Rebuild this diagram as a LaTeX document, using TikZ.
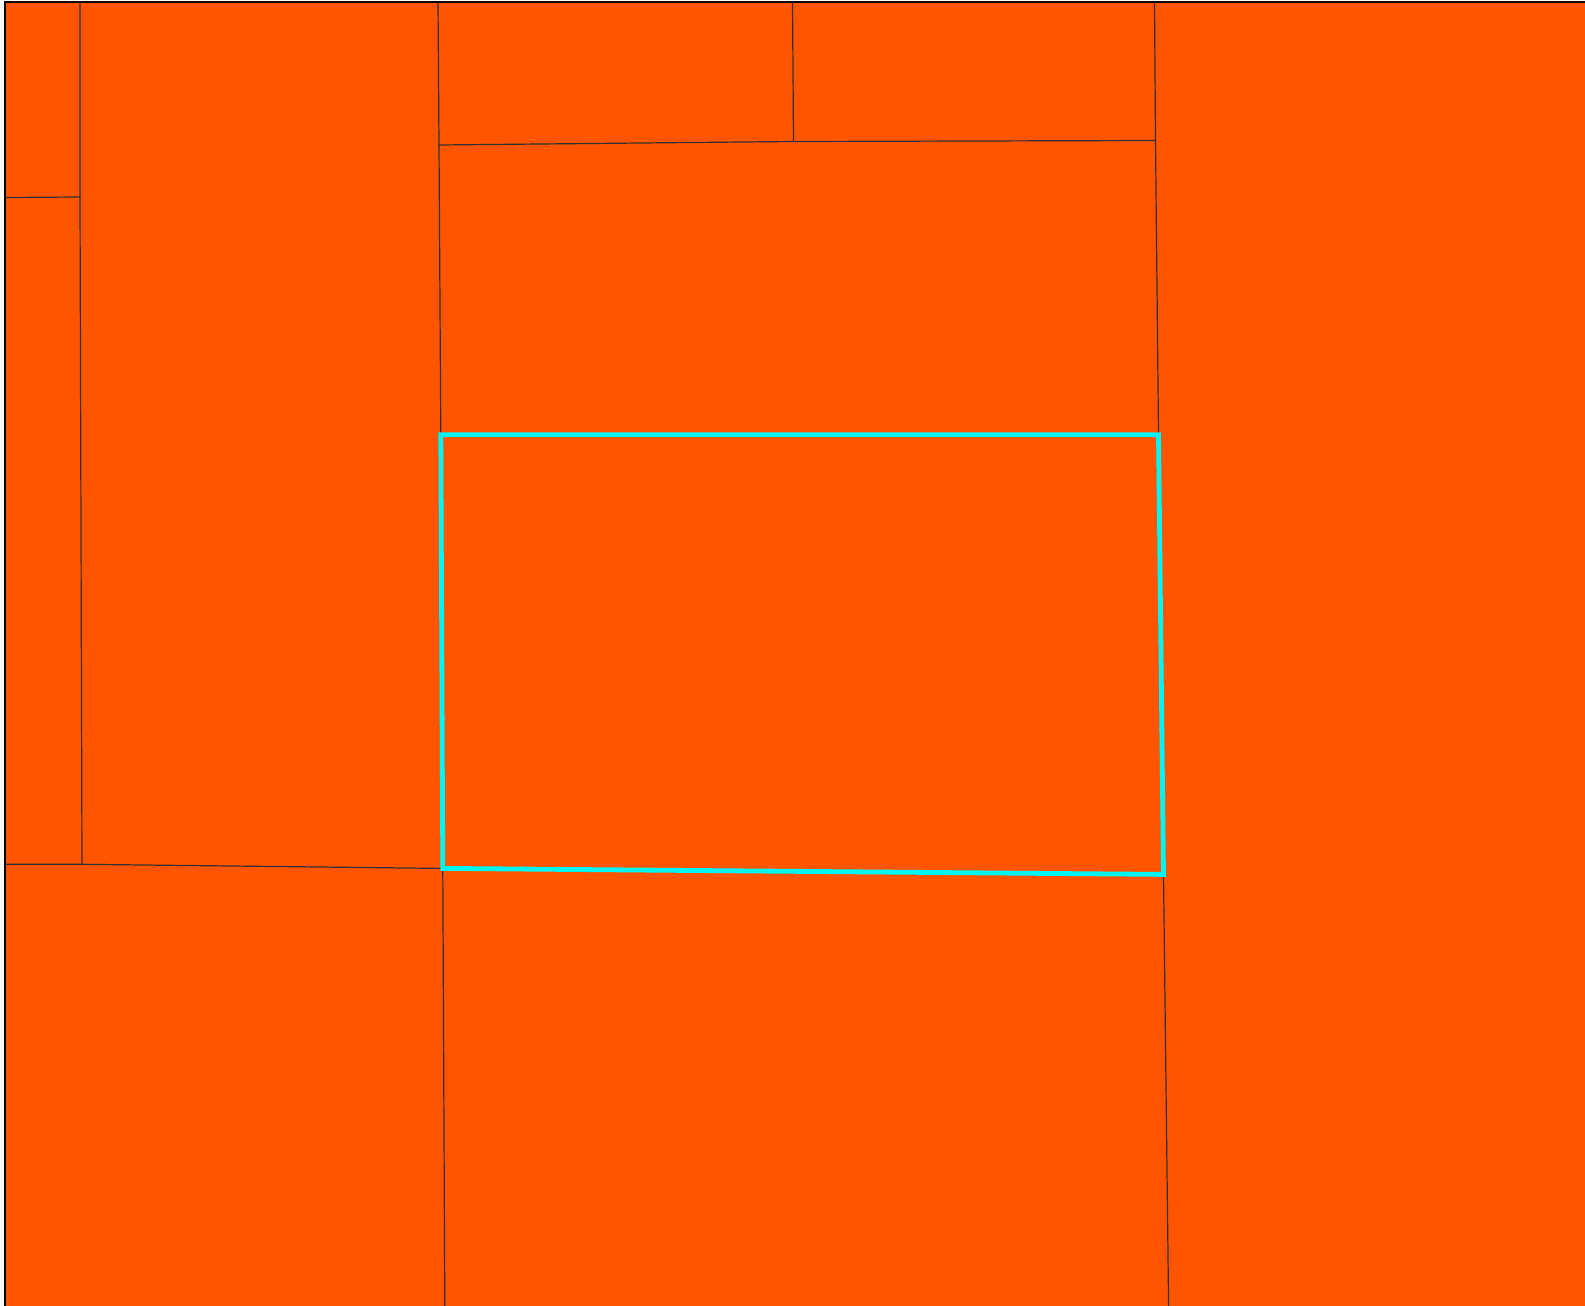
\documentclass[tikz,border=0pt]{standalone}
\definecolor{parcel}{HTML}{FF5500}
\definecolor{hilite}{HTML}{00F5F5}
\definecolor{edge}{HTML}{303030}
\tikzset{
  boundary/.style={draw=edge, line width=0.9pt},
  frame/.style={draw=black, line width=2pt},
  selected/.style={draw=hilite, line width=3.6pt, line join=miter}
}
\begin{document}
\begin{tikzpicture}[x=0.75pt,y=-0.75pt]
\useasboundingbox (0,0) rectangle (1585,1306);
\fill[white] (0,0) rectangle (1585,1306);
\fill[parcel] (5,2) rectangle (1585,1306);
% parcel boundaries
\coordinate (a1) at (80,2);
\coordinate (a2) at (80,197);
\coordinate (a3) at (82,864.3);
\draw[boundary] (a1) -- (a2) -- (a3);
\draw[boundary] (5,197.5) -- (a2);
\draw[boundary] (5,864.3) -- (a3) -- (442.8,868.4);
\coordinate (b1) at (438,2);
\coordinate (b2) at (439,145);
\coordinate (c1) at (440.8,434.7);
\draw[boundary] (b1) -- (b2) -- (c1);
\coordinate (m1) at (792.5,2);
\coordinate (m2) at (793.5,141.5);
\draw[boundary] (m1) -- (m2);
\coordinate (r1) at (1154.5,2);
\coordinate (r2) at (1155.5,140.5);
\coordinate (c2) at (1158.5,434.7);
\draw[boundary] (b2) -- (m2) -- (r2);
\draw[boundary] (r1) -- (r2) -- (c2);
\coordinate (c3) at (1163.5,874.4);
\coordinate (c4) at (442.8,868.4);
\draw[boundary] (c3) -- (1168.6,1306);
\draw[boundary] (c4) -- (444.8,1306);
% selected parcel
\draw[selected] (c1) -- (c2) -- (c3) -- (c4) -- cycle;
% frame
\draw[frame] (5,1306) -- (5,2) -- (1585,2);
\draw[black, line width=1pt] (3.5,654) -- (6,654);
\end{tikzpicture}
\end{document}
